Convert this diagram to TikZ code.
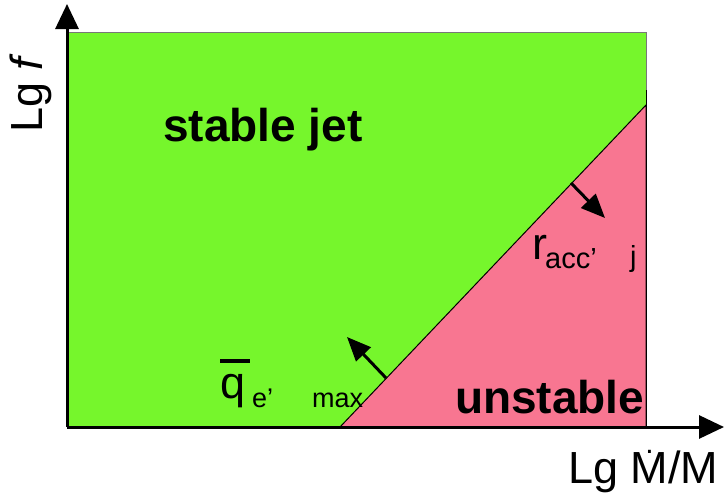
\documentclass[tikz,border=0pt]{standalone}
\usepackage{fontspec}
\setmainfont{Liberation Sans}
\usetikzlibrary{arrows.meta}
\definecolor{stableGreen}{RGB}{118,246,44}
\definecolor{unstablePink}{RGB}{248,118,145}
\definecolor{edgeGray}{RGB}{120,120,120}

\begin{document}
\begin{tikzpicture}[
  x=1pt,
  y=-1pt,
  axis/.style={line width=3pt, -{Triangle[length=25pt,width=23pt]}},
  pusharrow/.style={line width=3pt, -{Triangle[length=24pt,width=20pt]}},
  big/.style={font=\fontsize{45}{54}\selectfont, inner sep=0pt, anchor=base west},
  bigbold/.style={big, font=\fontsize{46}{54}\selectfont\bfseries},
  qsub/.style={font=\fontsize{27}{30}\selectfont, inner sep=0pt, anchor=base west},
  rsub/.style={font=\fontsize{29}{34}\selectfont, inner sep=0pt, anchor=base west}
]
\useasboundingbox (0,0) rectangle (725,493);

% regions
\fill[stableGreen] (67,32) rectangle (646,427);
\draw[edgeGray, line width=1pt] (67,32) -- (646,32) -- (646,90);
\filldraw[fill=unstablePink, draw=black, line width=1pt]
  (340,427) -- (646,105) -- (646,427) -- cycle;
\draw[black, line width=1pt] (646,90) -- (646,427);

% axes
\coordinate (origin) at (67,427);
\coordinate (ytip) at (67,4);
\coordinate (xtip) at (724,427);
\draw[axis] (origin) -- (ytip);
\draw[axis] (origin) -- (xtip);

% shifts of the boundary
\coordinate (qfoot) at (386,378);
\coordinate (qhead) at (347,337);
\coordinate (rfoot) at (571,183);
\coordinate (rhead) at (605,218);
\draw[pusharrow] (qfoot) -- (qhead);
\draw[pusharrow] (rfoot) -- (rhead);

% labels
\node[bigbold] (stable) at (163,141) {stable jet};
\node[bigbold] (unstable) at (455,413) {unstable};
\node[big, rotate=90] (ylabel) at (42,133) {Lg \textit{f}};
\node[big] (xlabel) at (568,483)
  {Lg \makebox[0pt][l]{\makebox[0.833em]{\raisebox{0.66em}{\fontsize{30}{30}\selectfont.}}}M/M};

\node[big] (q) at (220,398)
  {\rlap{\raisebox{0.78em}{\rule{0.66em}{0.09em}}}q};
\node[qsub] (qe) at (252,407) {e’};
\node[qsub] (qmax) at (312,407) {max};

\node[big] (r) at (532,259) {r};
\node[rsub] (racc) at (545,268) {acc’};
\node[rsub] (rj) at (630,266) {j};
\end{tikzpicture}
\end{document}
